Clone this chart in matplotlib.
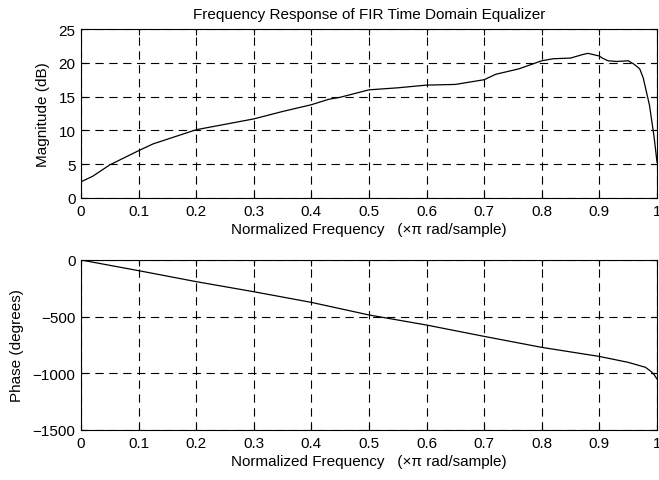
import numpy as np
import matplotlib.pyplot as plt

plt.rcParams['font.family'] = ['Liberation Sans', 'DejaVu Sans']

# magnitude response (dB) at normalized frequencies
f_mag = [0.0, 0.02, 0.05, 0.1, 0.125, 0.15, 0.2, 0.25, 0.3, 0.35, 0.4, 0.43,
         0.45, 0.5, 0.55, 0.6, 0.65, 0.7, 0.72, 0.76, 0.8, 0.82, 0.85, 0.87,
         0.88, 0.9, 0.905, 0.915, 0.93, 0.95, 0.96, 0.97, 0.976, 0.987, 0.995, 1.0]
mag_db = [2.4, 3.2, 4.9, 7.0, 8.0, 8.7, 10.1, 10.9, 11.7, 12.8, 13.8, 14.6,
          14.9, 16.0, 16.3, 16.7, 16.8, 17.5, 18.3, 19.1, 20.3, 20.6, 20.7, 21.2,
          21.4, 21.0, 20.7, 20.3, 20.2, 20.3, 19.8, 19.1, 17.8, 13.7, 9.0, 5.3]

# phase response (degrees)
f_ph = [0.0, 0.1, 0.2, 0.3, 0.4, 0.5, 0.6, 0.7, 0.8, 0.9, 0.95, 0.98, 0.99, 0.995, 1.0]
phase_deg = [0, -94, -191, -280, -374, -485, -574, -674, -771, -851, -903,
             -947, -985, -1012, -1050]

xticks = [0, 0.1, 0.2, 0.3, 0.4, 0.5, 0.6, 0.7, 0.8, 0.9, 1]
xticklabels = ['0', '0.1', '0.2', '0.3', '0.4', '0.5', '0.6', '0.7', '0.8', '0.9', '1']
xlab = 'Normalized Frequency   (\u00d7\u03c0 rad/sample)'

fs = 11
fig = plt.figure(figsize=(6.59, 4.81), dpi=100)
W, H = 659, 481
ax1 = fig.add_axes([81 / W, 1 - 199 / H, 576 / W, 169 / H])
ax2 = fig.add_axes([81 / W, 1 - 431 / H, 576 / W, 170 / H])

for ax in (ax1, ax2):
    ax.set_xlim(0, 1)
    ax.set_xticks(xticks)
    ax.set_xticklabels(xticklabels)
    ax.tick_params(direction='in', length=4, width=0.8, labelsize=fs,
                   top=True, right=True, pad=4)
    ax.grid(True, color='black', linestyle=(0, (7.5, 5)), linewidth=0.8)
    ax.set_xlabel(xlab, fontsize=fs, labelpad=3)
    for s in ax.spines.values():
        s.set_linewidth(0.8)

ax1.plot(f_mag, mag_db, color='black', linewidth=0.9)
ax1.set_ylim(0, 25)
ax1.set_yticks([0, 5, 10, 15, 20, 25])
ax1.set_ylabel('Magnitude (dB)', fontsize=fs, labelpad=6)
ax1.set_title('Frequency Response of FIR Time Domain Equalizer', fontsize=fs, pad=8)

ax2.plot(f_ph, phase_deg, color='black', linewidth=0.9)
ax2.set_ylim(-1500, 0)
ax2.set_yticks([-1500, -1000, -500, 0])
ax2.set_ylabel('Phase (degrees)', fontsize=fs, labelpad=6)

fig.savefig('out.png', dpi=100)
